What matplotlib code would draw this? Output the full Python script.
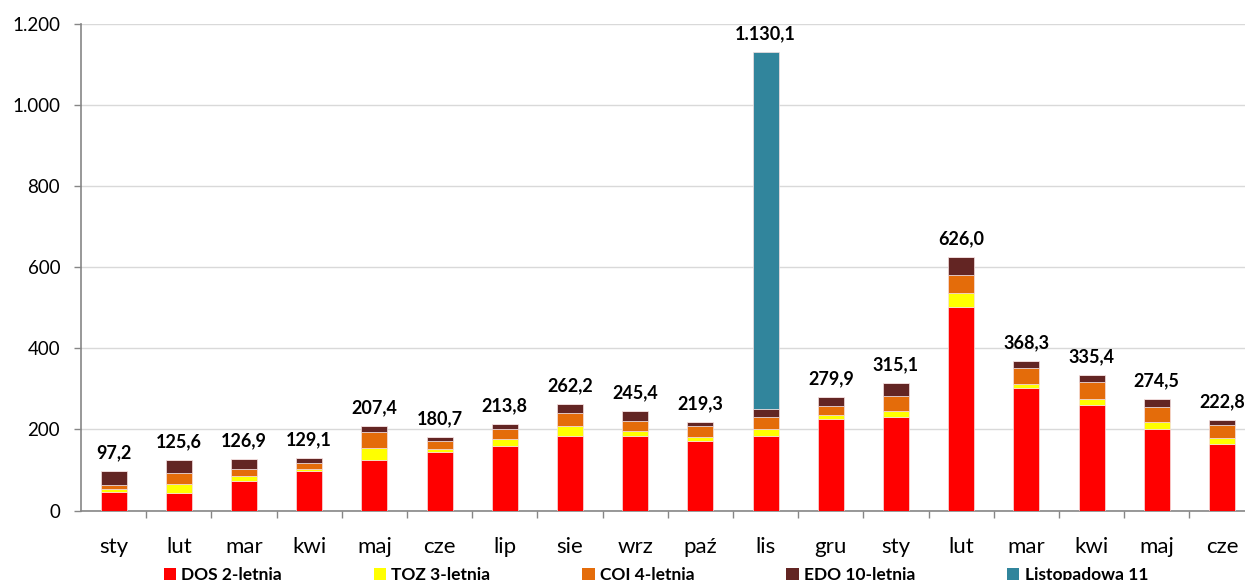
import numpy as np
import matplotlib.pyplot as plt
from matplotlib.ticker import FuncFormatter, FixedLocator
from matplotlib.patches import Patch

# --- Data (mln zł) ---
months = ['sty', 'lut', 'mar', 'kwi', 'maj', 'cze', 'lip', 'sie', 'wrz',
          'paź', 'lis', 'gru', 'sty', 'lut', 'mar', 'kwi', 'maj', 'cze']
dos = [44.5, 43.6, 72.0, 98.0, 125.7, 143.7, 160.0, 185.0, 183.0,
       171.0, 185.0, 225.5, 231.6, 502.7, 301.4, 259.5, 200.4, 164.6]
toz = [7.5, 22.4, 12.0, 5.5, 28.8, 9.0, 17.4, 23.0, 12.4,
       11.3, 17.0, 9.8, 14.8, 34.6, 11.6, 15.7, 17.2, 14.4]
coi = [10.0, 26.0, 19.0, 14.5, 38.5, 18.0, 24.6, 33.0, 26.4,
       27.0, 29.6, 23.4, 35.6, 44.3, 39.4, 42.8, 37.9, 33.0]
edo = [35.2, 33.6, 23.9, 11.1, 14.4, 10.0, 11.8, 21.2, 23.6,
       10.0, 19.4, 21.2, 33.1, 44.4, 15.9, 17.4, 19.0, 10.8]
lst = [0, 0, 0, 0, 0, 0, 0, 0, 0,
       0, 879.1, 0, 0, 0, 0, 0, 0, 0]

series = [
    ('DOS 2-letnia', dos, '#FF0000'),
    ('TOZ 3-letnia', toz, '#FFFF00'),
    ('COI 4-letnia', coi, '#E46C0A'),
    ('EDO 10-letnia', edo, '#632523'),
    ('Listopadowa 11', lst, '#31859C'),
]


def pl_num(v, dec=1):
    s = f'{v:,.{dec}f}'
    return s.replace(',', ' ').replace('.', ',').replace(' ', '.')


plt.rcParams['font.family'] = ['Lato', 'DejaVu Sans']

fig = plt.figure(figsize=(12.45, 5.8), dpi=100)
ax = fig.add_axes([0.0651, 0.1198, 0.9426, 0.8388])

x = np.arange(len(months))
bottom = np.zeros(len(months))
for name, vals, col in series:
    vals = np.array(vals, dtype=float)
    ax.bar(x, vals, width=0.4, bottom=bottom, color=col,
           edgecolor='#f4e0e0', linewidth=0.5, label=name, zorder=3)
    bottom += vals

# totals above bars
for xi, tot in zip(x, bottom):
    ax.annotate(pl_num(tot), (xi, tot), xytext=(0, 7), textcoords='offset points',
                ha='center', va='bottom', fontsize=13, fontweight='bold')

ax.set_xlim(-0.5, len(months) - 0.5)
ax.set_ylim(0, 1200)
ax.set_yticks(np.arange(0, 1201, 200))
ax.yaxis.set_major_formatter(FuncFormatter(lambda v, p: pl_num(v, 0)))
ax.grid(axis='y', color='#D9D9D9', linewidth=1, zorder=0)

ax.set_xticks(x)
ax.set_xticklabels(months)
ax.xaxis.set_minor_locator(FixedLocator(np.arange(0.5, len(months) - 0.5, 1)))
ax.tick_params(axis='x', which='major', length=0, pad=19, labelsize=16)
ax.tick_params(axis='x', which='minor', length=5, color='#868686', width=1)
ax.tick_params(axis='y', length=5, color='#868686', width=1, pad=10, labelsize=13.5)

for s in ['top', 'right']:
    ax.spines[s].set_visible(False)
for s in ['left', 'bottom']:
    ax.spines[s].set_color('#868686')
    ax.spines[s].set_linewidth(1.2)

handles = [Patch(facecolor=c, label=n) for n, _, c in series]
leg = fig.legend(handles=handles, loc='center left', bbox_to_anchor=(0.119, 0.008),
                 ncol=5, frameon=False, handlelength=0.7, handleheight=0.7,
                 handletextpad=0.3, columnspacing=5.3,
                 prop={'weight': 'bold', 'size': 12.5})

fig.savefig('out.png', dpi=100)
